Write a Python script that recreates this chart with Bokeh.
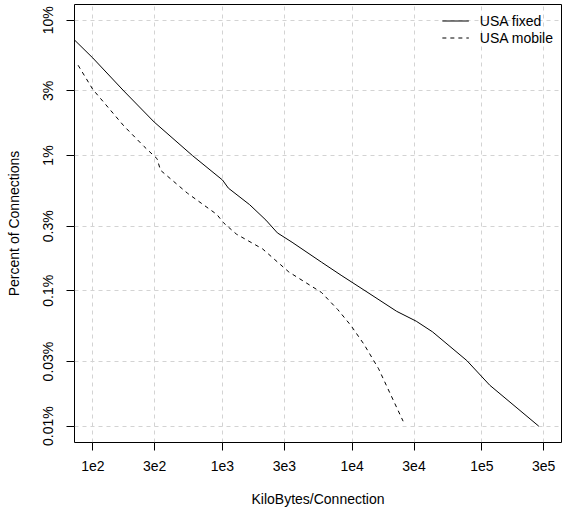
from bokeh.plotting import figure
from bokeh.models import Range1d, FixedTicker, Legend, LegendItem
from bokeh.embed import file_html
from bokeh.resources import INLINE

# Data (percent of connections vs kilobytes/connection)
fixed_kb = [72.2, 100, 173.4, 297, 586, 1000, 1110, 1620, 2163, 2651, 3441,
            5800, 8215, 12320, 22040, 31210, 41680, 76620, 115100, 274900]
fixed_pct = [7.15, 5.26, 3.0, 1.77, 1.0, 0.659, 0.574, 0.433, 0.333, 0.268, 0.2285,
             0.1628, 0.1303, 0.1014, 0.0705, 0.0596, 0.0497, 0.0305, 0.02005, 0.00998]

mobile_kb = [77.0, 100, 173.4, 248.5, 313.3, 332.3, 537.3, 905.6, 1018, 1283, 2041,
             3249, 5800, 7757, 9777, 12320, 16000, 19610, 24720]
mobile_pct = [4.65, 3.08, 1.656, 1.165, 0.946, 0.779, 0.526, 0.3664, 0.3184, 0.262, 0.2038,
              0.1377, 0.0972, 0.0725, 0.0554, 0.0403, 0.0265, 0.01744, 0.01086]

x_ticks = [100, 300, 1000, 3000, 10000, 30000, 100000, 300000]
x_tick_labels = ["1e2", "3e2", "1e3", "3e3", "1e4", "3e4", "1e5", "3e5"]
y_ticks = [0.01, 0.03, 0.1, 0.3, 1, 3, 10]
y_tick_labels = ["0.01%", "0.03%", "0.1%", "0.3%", "1%", "3%", "10%"]

FONT = "Liberation Sans"
FS = "14px"

p = figure(width=563, height=511, x_axis_type="log", y_axis_type="log",
           output_backend="svg", toolbar_location=None,
           x_range=Range1d(10 ** 1.8587, 10 ** 5.6145),
           y_range=Range1d(10 ** -2.1215, 10 ** 1.1164),
           min_border_left=74, min_border_right=2, min_border_top=4,
           min_border_bottom=69)

p.background_fill_color = "white"
p.border_fill_color = "white"
p.outline_line_color = "black"
p.outline_line_width = 1

p.xaxis.ticker = FixedTicker(ticks=x_ticks)
p.yaxis.ticker = FixedTicker(ticks=y_ticks)
p.xaxis.major_label_overrides = {t: l for t, l in zip(x_ticks, x_tick_labels)}
p.yaxis.major_label_overrides = {t: l for t, l in zip(y_ticks, y_tick_labels)}
p.yaxis.major_label_orientation = "vertical"

for ax in (p.xaxis, p.yaxis):
    ax.axis_line_color = None
    ax.major_tick_in = 0
    ax.major_tick_out = 8
    ax.major_tick_line_color = "black"
    ax.minor_tick_line_color = None
    ax.major_label_text_font = FONT
    ax.major_label_text_font_size = FS
    ax.major_label_text_color = "black"
    ax.major_label_standoff = 10
    ax.axis_label_text_font = FONT
    ax.axis_label_text_font_size = FS
    ax.axis_label_text_font_style = "normal"
    ax.axis_label_text_color = "black"

p.xaxis.axis_label_standoff = 17
p.yaxis.axis_label_standoff = 16
p.xaxis.axis_label = "KiloBytes/Connection"
p.yaxis.axis_label = "Percent of Connections"

p.xgrid.ticker = FixedTicker(ticks=x_ticks)
p.ygrid.ticker = FixedTicker(ticks=y_ticks)
for g in (p.xgrid, p.ygrid):
    g.grid_line_color = "#d3d3d3"
    g.grid_line_dash = "4 4"
    g.grid_line_width = 1

r1 = p.line(fixed_kb, fixed_pct, line_color="black", line_width=1)
r2 = p.line(mobile_kb, mobile_pct, line_color="black", line_width=1, line_dash="4 4")

legend = Legend(items=[LegendItem(label="USA fixed", renderers=[r1]),
                       LegendItem(label="USA mobile", renderers=[r2])],
                location="top_right")
legend.border_line_color = None
legend.background_fill_alpha = 0
legend.label_text_font = FONT
legend.label_text_font_size = FS
legend.label_text_color = "black"
legend.glyph_width = 27
legend.glyph_height = 17
legend.label_height = 17
legend.label_standoff = 11
legend.spacing = 0
legend.padding = 0
legend.margin = 8
p.add_layout(legend)

open("out.html", "w").write(file_html(p, INLINE))
